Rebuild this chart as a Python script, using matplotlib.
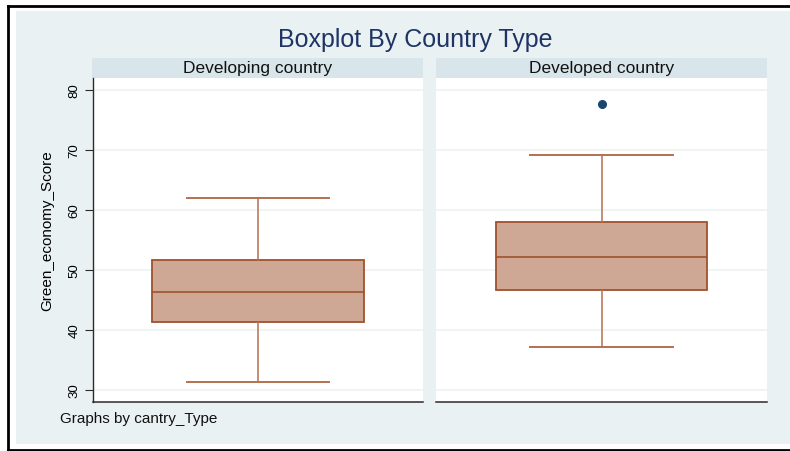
import matplotlib
matplotlib.use("Agg")
import matplotlib.pyplot as plt
from matplotlib.patches import Rectangle
from matplotlib.lines import Line2D

plt.rcParams['font.family'] = ['Liberation Sans', 'DejaVu Sans']

# box summaries per country type
groups = ["Developing country", "Developed country"]
whislo = [31.3, 37.1]
q1 = [41.3, 46.6]
med = [46.4, 52.2]
q3 = [51.6, 58.0]
whishi = [62.0, 69.1]
fliers = [[], [77.6]]

yticks = [30, 40, 50, 60, 70, 80]

W, H = 790, 452
fig = plt.figure(figsize=(W / 100, H / 100), dpi=100)
fig.patch.set_facecolor("white")


def fx(px):
    return px / W


def fy(py):
    return 1 - py / H


# graph region background and frame
fig.patches.append(Rectangle((fx(16), fy(445)), fx(790 - 16), (445 - 12) / H,
                             transform=fig.transFigure, facecolor="#e9f1f3",
                             edgecolor="none", zorder=0))
fig.add_artist(Line2D([fx(8), fx(8)], [fy(6.5), fy(450.5)], color="black", lw=2))
fig.add_artist(Line2D([fx(8), 1], [fy(6.5), fy(6.5)], color="black", lw=2))
fig.add_artist(Line2D([fx(8), 1], [fy(450.5), fy(450.5)], color="black", lw=2))

panels = [(93, 423), (436, 767)]
top, bottom = 79, 403
box_c = "#a0522d"
whisk_c = "#b4704f"

for i, (x0, x1) in enumerate(panels):
    # panel header strip
    hx0 = x0 - 1 if i == 0 else x0
    fig.patches.append(Rectangle((fx(hx0), fy(top)), fx(x1 - hx0), (top - 59) / H,
                                 transform=fig.transFigure, facecolor="#d8e5eb",
                                 edgecolor="none", zorder=1))
    fig.text(fx((hx0 + x1) / 2), fy(69), groups[i], ha="center", va="center",
             fontsize=12.5, color="#111111")

    ax = fig.add_axes([fx(x0), fy(bottom), fx(x1 - x0), (bottom - top) / H])
    ax.set_zorder(3)
    ax.set_facecolor("white")
    stats = [dict(med=med[i], q1=q1[i], q3=q3[i], whislo=whislo[i],
                  whishi=whishi[i], fliers=fliers[i])]
    ax.bxp(stats, positions=[0], widths=1.28, capwidths=0.86, patch_artist=True,
           boxprops=dict(facecolor="#cea894", edgecolor=box_c, linewidth=1.3),
           medianprops=dict(color=box_c, linewidth=1.2),
           whiskerprops=dict(color=whisk_c, linewidth=1.1),
           capprops=dict(color=whisk_c, linewidth=1.4),
           flierprops=dict(marker="o", markersize=5.5, markerfacecolor="#1a476f",
                           markeredgecolor="#1a476f"))
    ax.set_xlim(-1, 1)
    ax.set_ylim(28, 82)
    ax.set_xticks([])
    ax.set_yticks(yticks)
    ax.grid(axis="y", color="#eef3f2", linewidth=1.2)
    ax.set_axisbelow(True)
    for s in ("top", "right"):
        ax.spines[s].set_visible(False)
    ax.spines["bottom"].set_color("#2b2b2b")
    ax.spines["bottom"].set_linewidth(1.1)
    if i == 0:
        ax.spines["left"].set_color("#2b2b2b")
        ax.spines["left"].set_linewidth(1.0)
        ax.tick_params(axis="y", length=6, width=0.8, color="#2b2b2b", pad=3,
                       labelsize=9.5, labelrotation=90)
        for lab in ax.get_yticklabels():
            lab.set_va("center")
        ax.set_ylabel("Green_economy_Score", fontsize=11)
        ax.yaxis.label.set_va("center")
        ax.yaxis.set_label_coords((47 - x0) / (x1 - x0), (bottom - 231) / (bottom - top))
    else:
        ax.spines["left"].set_visible(False)
        ax.tick_params(axis="y", length=0, labelleft=False)

fig.text(fx(415), fy(40), "Boxplot By Country Type", ha="center", va="center",
         fontsize=18, color="#1f3464")
fig.text(fx(60), fy(419), "Graphs by cantry_Type", ha="left", va="center",
         fontsize=11, color="#111111")

fig.savefig("out.png", dpi=100)
